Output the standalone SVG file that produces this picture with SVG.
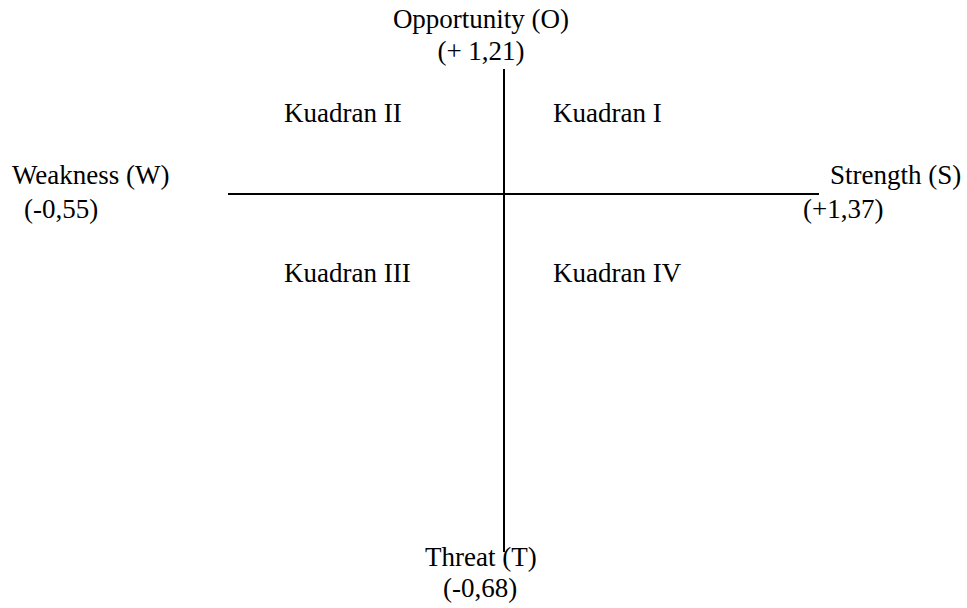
<svg xmlns="http://www.w3.org/2000/svg" width="967" height="608" viewBox="0 0 967 608">
<style>
text{font-family:"Liberation Serif","Times New Roman",serif;font-size:27px;fill:#000}
.ax{stroke:#000;stroke-width:2;fill:none}
</style>
<rect width="967" height="608" fill="#fff"/>
<g id="connectors">
<line class="ax" x1="504" y1="69" x2="504" y2="552"/>
<line class="ax" x1="228" y1="194" x2="819" y2="194"/>
</g>
<g id="opportunity">
<text x="481" y="28" text-anchor="middle">Opportunity (O)</text>
<text x="481" y="60" text-anchor="middle">(+ 1,21)</text>
</g>
<g id="weakness">
<text x="12" y="184">Weakness (W)</text>
<text x="24" y="218">(-0,55)</text>
</g>
<g id="strength">
<text x="830" y="184">Strength (S)</text>
<text x="803" y="218">(+1,37)</text>
</g>
<g id="threat">
<text x="425" y="566">Threat (T)</text>
<text x="443" y="597">(-0,68)</text>
</g>
<g id="kuadran-1"><text x="553" y="122">Kuadran I</text></g>
<g id="kuadran-2"><text x="284" y="122">Kuadran II</text></g>
<g id="kuadran-3"><text x="284" y="282">Kuadran III</text></g>
<g id="kuadran-4"><text x="553" y="282">Kuadran IV</text></g>
</svg>
